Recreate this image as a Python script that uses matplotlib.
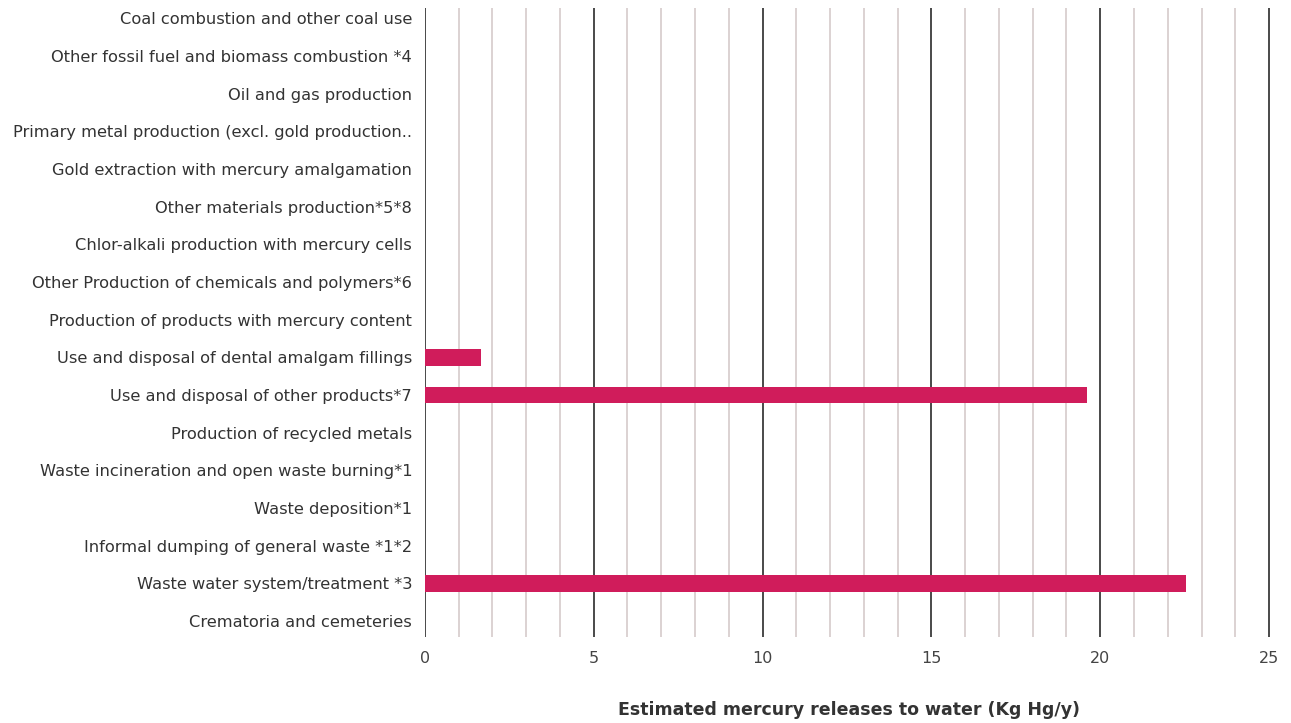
import matplotlib.pyplot as plt
import numpy as np

categories = [
    "Coal combustion and other coal use",
    "Other fossil fuel and biomass combustion *4",
    "Oil and gas production",
    "Primary metal production (excl. gold production..",
    "Gold extraction with mercury amalgamation",
    "Other materials production*5*8",
    "Chlor-alkali production with mercury cells",
    "Other Production of chemicals and polymers*6",
    "Production of products with mercury content",
    "Use and disposal of dental amalgam fillings",
    "Use and disposal of other products*7",
    "Production of recycled metals",
    "Waste incineration and open waste burning*1",
    "Waste deposition*1",
    "Informal dumping of general waste *1*2",
    "Waste water system/treatment *3",
    "Crematoria and cemeteries",
]
values = [0, 0, 0, 0, 0, 0, 0, 0, 0, 1.66, 19.6, 0, 0, 0, 0, 22.55, 0]
xticks = [0, 5, 10, 15, 20, 25]

plt.rcParams['font.family'] = ['DejaVu Sans']

fig = plt.figure(figsize=(12.91, 7.23), dpi=100)
ax = fig.add_axes([0.329, 0.119, 0.658, 0.870])

y = np.arange(len(categories))
ax.barh(y, values, height=0.45, color="#d01c5b", zorder=3)

# grid lines: light every 1, dark every 5
for v in range(0, 26):
    if v % 5 == 0:
        ax.axvline(v, color="#3a3a3a", lw=1.3, zorder=2)
    else:
        ax.axvline(v, color="#d9cfcf", lw=1.3, zorder=1)

ax.set_xlim(0, 25.15)
ax.set_ylim(16.42, -0.27)
ax.set_yticks(y)
ax.set_yticklabels(categories, fontsize=11.7, color="#333333")
ax.set_xticks(xticks)
ax.set_xticklabels([str(t) for t in xticks], fontsize=11.5, color="#444444")
ax.tick_params(axis="both", length=0)
ax.tick_params(axis="y", pad=9)
ax.tick_params(axis="x", pad=10)
for s in ax.spines.values():
    s.set_visible(False)

ax.set_xlabel("Estimated mercury releases to water (Kg Hg/y)", fontsize=12.5,
              fontweight="semibold", color="#333333", labelpad=25)

fig.savefig("out.png", dpi=100)
